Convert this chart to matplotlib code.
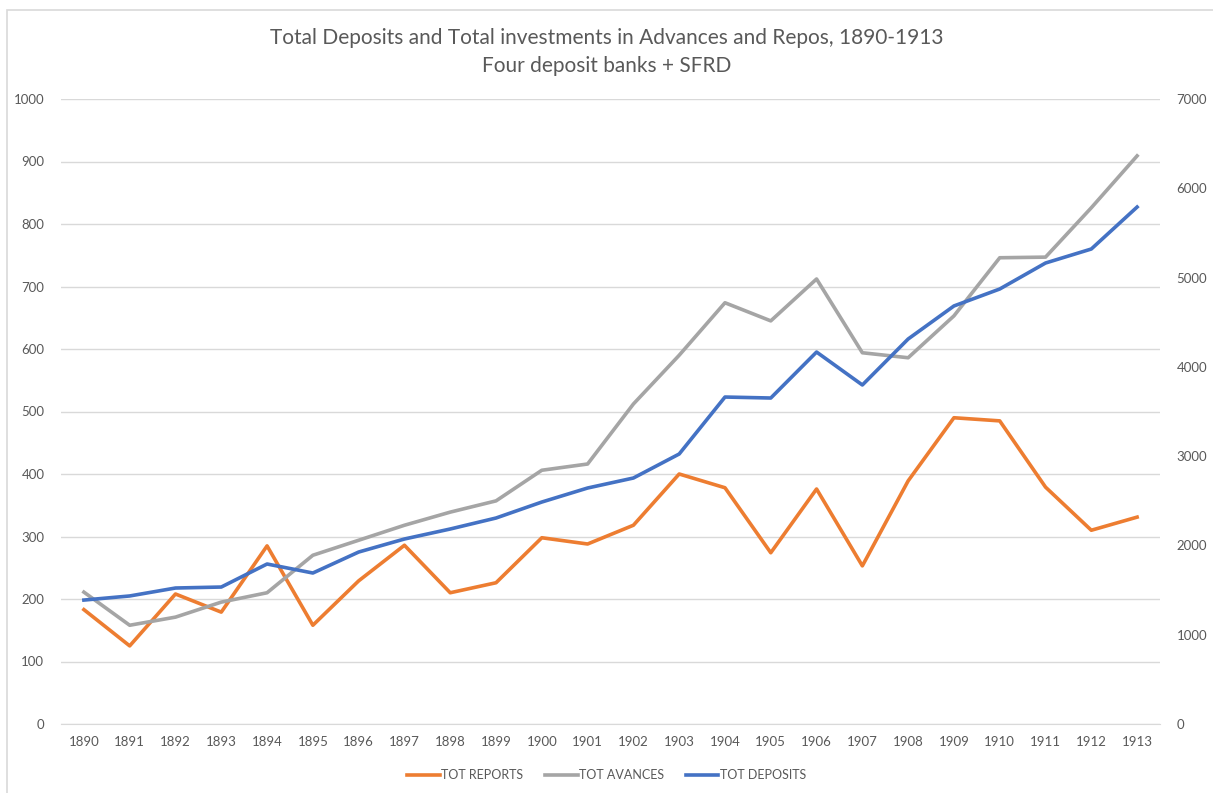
import matplotlib.pyplot as plt
from matplotlib.lines import Line2D
from matplotlib.patches import Rectangle

plt.rcParams['font.family'] = ['Lato', 'DejaVu Sans']

years = [str(y) for y in range(1890, 1914)]

# left axis
tot_reports = [183, 125, 208, 179, 285, 158, 229, 286, 210, 226, 298, 288,
               318, 400, 378, 274, 376, 253, 389, 490, 485, 379, 310, 331]
tot_avances = [211, 158, 171, 195, 210, 270, 294, 318, 339, 357, 406, 416,
               512, 590, 674, 645, 712, 594, 586, 653, 746, 747, 826, 909]
# right axis
tot_deposits = [1388, 1434, 1523, 1534, 1792, 1691, 1926, 2072, 2184, 2307, 2486, 2643,
                2755, 3024, 3662, 3651, 4166, 3797, 4312, 4682, 4872, 5163, 5320, 5790]

text_col = '#595959'
grid_col = '#d9d9d9'
c_rep = '#ed7d31'
c_av = '#a5a5a5'
c_dep = '#4472c4'

fig = plt.figure(figsize=(12.13, 7.93), dpi=100)
fig.patches.append(Rectangle((7 / 1213, -0.1), 1.2, (793 - 10) / 793 + 0.1,
                             transform=fig.transFigure, fill=False,
                             edgecolor='#d9d9d9', linewidth=1.2))

ax = fig.add_axes([61 / 1213, 69 / 793, 1099 / 1213, 625 / 793])
ax2 = ax.twinx()

x = list(range(len(years)))
ax.plot(x, tot_reports, color=c_rep, linewidth=2.6, solid_joinstyle='round', zorder=3)
ax.plot(x, tot_avances, color=c_av, linewidth=2.6, solid_joinstyle='round', zorder=3)
ax2.plot(x, tot_deposits, color=c_dep, linewidth=2.6, solid_joinstyle='round', zorder=3)

ax.set_xlim(-0.5, len(years) - 0.5)
ax.set_ylim(0, 1000)
ax2.set_ylim(0, 7000)
ax.set_yticks(range(0, 1001, 100))
ax2.set_yticks(range(0, 7001, 1000))
ax.set_xticks(x)
ax.set_xticklabels(years)

ax.grid(axis='y', color=grid_col, linewidth=1)
ax.set_axisbelow(True)
for a in (ax, ax2):
    for s in a.spines.values():
        s.set_visible(False)
    a.tick_params(length=0, labelsize=9.5, labelcolor=text_col)
ax.tick_params(axis='y', pad=12)
ax2.tick_params(axis='y', pad=12)
ax.tick_params(axis='x', pad=9)
ax.spines['bottom'].set_visible(True)
ax.spines['bottom'].set_color(grid_col)

fig.text(0.5, 1 - 38 / 793, 'Total Deposits and Total investments in Advances and Repos, 1890-1913',
         ha='center', va='center', fontsize=15, color=text_col)
fig.text(0.5, 1 - 66 / 793, 'Four deposit banks + SFRD',
         ha='center', va='center', fontsize=15, color=text_col)

handles = [Line2D([], [], color=c_rep, linewidth=2.6),
           Line2D([], [], color=c_av, linewidth=2.6),
           Line2D([], [], color=c_dep, linewidth=2.6)]
fig.legend(handles, ['TOT REPORTS', 'TOT AVANCES', 'TOT DEPOSITS'],
           loc='center', bbox_to_anchor=(0.5, 1 - 775 / 793), ncol=3, frameon=False,
           fontsize=9, labelcolor=text_col, handlelength=2.6, handletextpad=0.1,
           columnspacing=1.75)

fig.savefig('out.png', dpi=100)
